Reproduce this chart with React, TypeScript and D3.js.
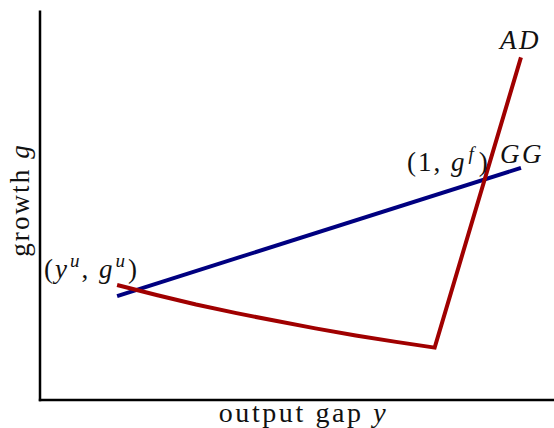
import { scaleLinear, line } from "d3"

// output gap (x) and growth (g) in model units
const ggY = [-1, 1.2]
const ggG = [0.47, 1.05]

const adY = [-1, -0.78, -0.57, -0.35, -0.13, 0.08, 0.3, 0.52, 0.73, 1.2]
const adG = [0.52, 0.474, 0.432, 0.393, 0.357, 0.324, 0.292, 0.263, 0.237, 1.55]

const yDomain = [-1.42, 1.38]
const gDomain = [0, 1.762]

const W = 554
const H = 428
const FONT = "'Liberation Serif', 'DejaVu Serif', serif"

export default function App() {
  const x = scaleLinear(yDomain, [40, W])
  const y = scaleLinear(gDomain, [400, 10.5])

  const path = (xs: number[], gs: number[]) =>
    line<number>()
      .x((d) => x(d))
      .y((_, i) => y(gs[i]))(xs) ?? ""

  const last = adY.length - 1
  const ggEnd = ggY.length - 1

  return (
    <svg
      width={W}
      height={H}
      style={{ position: "absolute", left: 0, top: 0, background: "#fff" }}
      fontFamily={FONT}
    >
      {/* axes */}
      <line x1={x(yDomain[0])} x2={x(yDomain[0])} y1={y(gDomain[1])} y2={y(0) + 1.2} stroke="#000" strokeWidth={2.5} />
      <line x1={x(yDomain[0]) - 1.2} x2={x(yDomain[1])} y1={y(0)} y2={y(0)} stroke="#000" strokeWidth={2.5} />

      {/* curves */}
      <path d={path(ggY, ggG)} fill="none" stroke="#000080" strokeWidth={4} />
      <path d={path(adY, adG)} fill="none" stroke="#a00000" strokeWidth={4} strokeLinejoin="miter" />

      {/* axis labels */}
      <text x={303.5} y={422} textAnchor="middle" fontSize={28} letterSpacing={2.6} fill="#111">
        output gap <tspan fontStyle="italic">y</tspan>
      </text>
      <text
        transform={`translate(29,${200}) rotate(-90)`}
        textAnchor="middle"
        fontSize={27}
        letterSpacing={2.1}
        fill="#111"
      >
        growth <tspan fontStyle="italic">g</tspan>
      </text>

      {/* curve labels */}
      <text x={x(adY[last]) - 21} y={y(adG[last]) - 8} fontSize={27} fontStyle="italic" letterSpacing={2.5} fill="#111">
        AD
      </text>
      <text x={x(ggY[ggEnd]) - 21} y={y(ggG[ggEnd]) - 5} fontSize={27} fontStyle="italic" letterSpacing={2.5} fill="#111">
        GG
      </text>
      <text x={407} y={171} fontSize={27} fill="#111" letterSpacing={2}>
        (1, <tspan fontStyle="italic">g</tspan>
        <tspan fontSize={19} dx={2} dy={-11} fontStyle="italic">f</tspan>
        <tspan dx={3} dy={11}>)</tspan>
      </text>
      <text x={44} y={278} fontSize={27} fill="#111" letterSpacing={2}>
        (<tspan fontStyle="italic">y</tspan>
        <tspan fontSize={19} dx={1} dy={-11} fontStyle="italic">u</tspan>
        <tspan dy={11}>, </tspan>
        <tspan fontStyle="italic">g</tspan>
        <tspan fontSize={19} dx={1} dy={-11} fontStyle="italic">u</tspan>
        <tspan dx={1} dy={11}>)</tspan>
      </text>
    </svg>
  )
}
